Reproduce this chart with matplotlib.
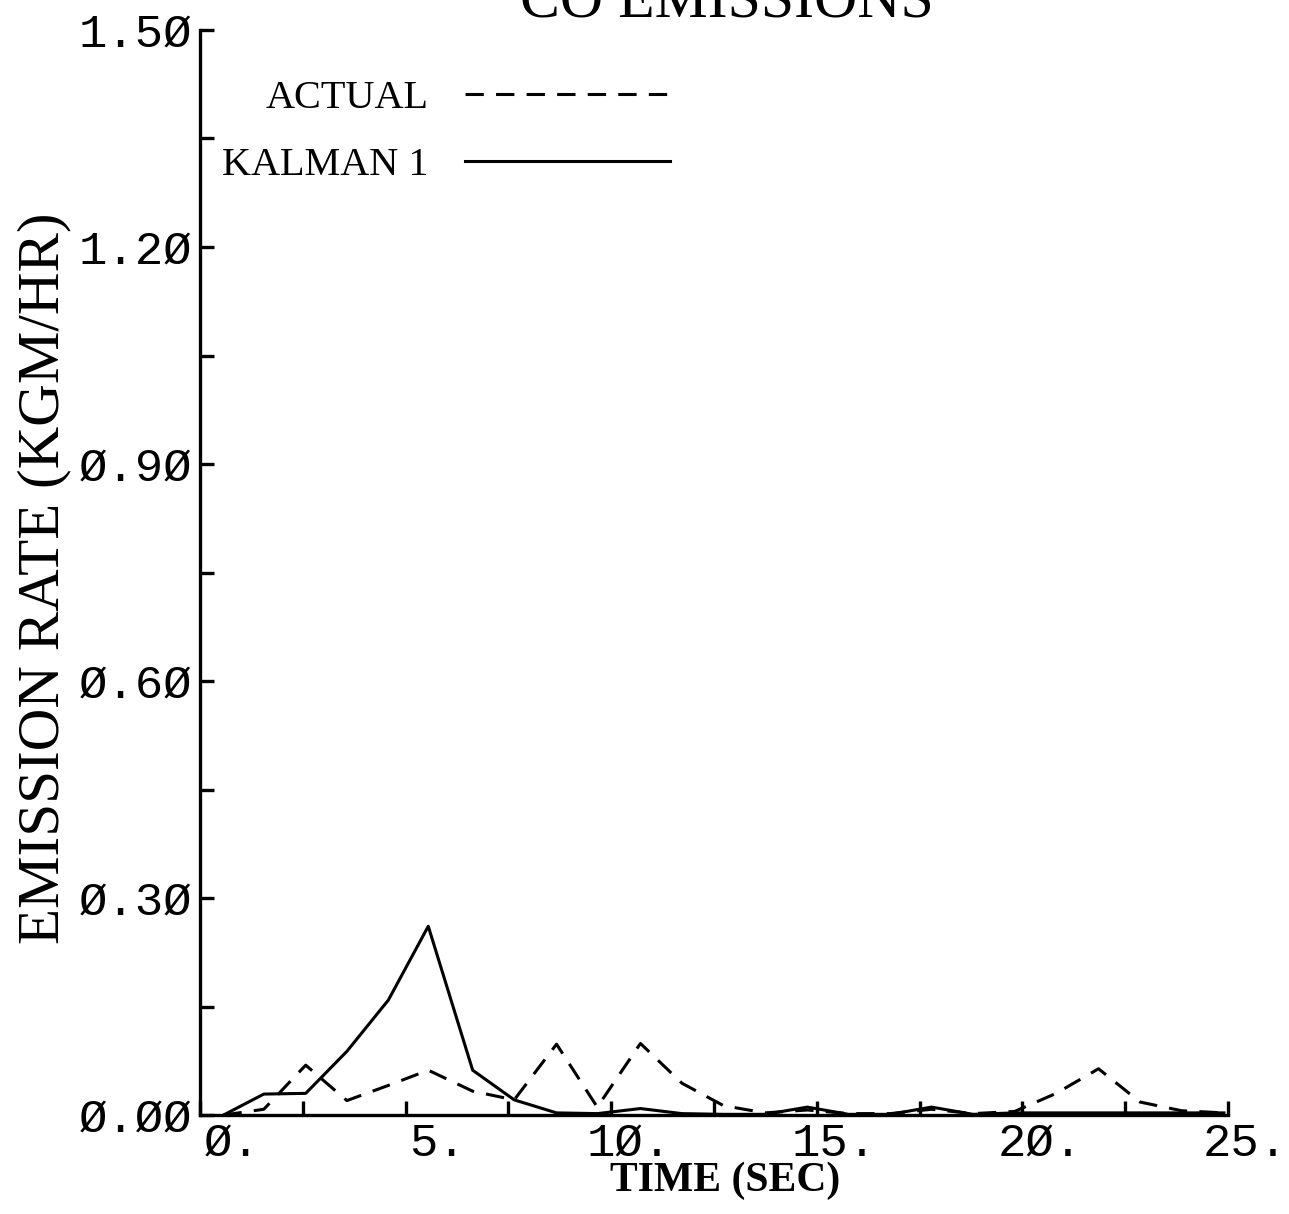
import matplotlib
matplotlib.use("Agg")
import matplotlib.pyplot as plt
from matplotlib.transforms import ScaledTranslation

# sample times (sec) and CO emission rates (kgm/hr)
time_s = [0.57, 1.55, 2.57, 3.57, 4.58, 5.55, 6.63, 7.64, 8.67, 9.66,
          10.71, 11.72, 12.73, 13.74, 14.77, 15.77, 16.78, 17.79, 18.80,
          19.81, 20.82, 21.85, 22.86, 23.87, 24.90]
actual = [0.000, 0.008, 0.069, 0.020, 0.041, 0.062, 0.033, 0.021, 0.098, 0.011,
          0.099, 0.044, 0.013, 0.003, 0.007, 0.002, 0.002, 0.008, 0.002,
          0.005, 0.030, 0.064, 0.018, 0.006, 0.003]
kalman = [0.000, 0.029, 0.030, 0.088, 0.159, 0.261, 0.062, 0.021, 0.003, 0.002,
          0.009, 0.002, 0.001, 0.001, 0.011, 0.001, 0.001, 0.011, 0.001,
          0.003, 0.003, 0.003, 0.003, 0.003, 0.003]

x_major = [0, 5, 10, 15, 20, 25]
x_minor = [2.5, 7.5, 12.5, 17.5, 22.5]
y_major = [0.0, 0.3, 0.6, 0.9, 1.2, 1.5]
y_minor = [0.15, 0.45, 0.75, 1.05, 1.35]

SERIF = "Liberation Serif"
MONO = "Liberation Mono"


def slashed(s):
    return s.replace("0", "\u00d8")


fig = plt.figure(figsize=(12.89, 12.14), dpi=100)
ax = fig.add_axes([0.1552, 0.0815, 0.7975, 0.8938])

ax.plot(time_s, actual, color="black", lw=2.2, dashes=(6, 4), label="ACTUAL")
ax.plot(time_s, kalman, color="black", lw=2.2, label="KALMAN 1")

ax.set_xlim(0, 25)
ax.set_ylim(0, 1.5)
for side in ("top", "right"):
    ax.spines[side].set_visible(False)
for side in ("left", "bottom"):
    ax.spines[side].set_linewidth(2.4)
    ax.spines[side].set_capstyle("projecting")

ax.set_xticks(x_major)
ax.set_xticks(x_minor, minor=True)
ax.set_yticks(y_major)
ax.set_yticks(y_minor, minor=True)
ax.set_xticklabels([slashed(f"{v:.0f}.") for v in x_major],
                   fontfamily=MONO, fontsize=34)
ax.set_yticklabels([slashed(f"{v:.2f}") for v in y_major],
                   fontfamily=MONO, fontsize=34)
ax.tick_params(which="both", direction="in", length=10, width=2.4)
ax.tick_params(axis="x", pad=5)
ax.tick_params(axis="y", pad=6)

# x labels sit to the right of their ticks, number plus trailing dot
shift = ScaledTranslation(0.60, 0, fig.dpi_scale_trans)
for lab in ax.get_xticklabels():
    lab.set_horizontalalignment("right")
    lab.set_transform(lab.get_transform() + shift)

ax.set_ylabel("EMISSION RATE (KGM/HR)", fontfamily=SERIF, fontsize=42.5)
ax.yaxis.set_label_coords(-0.151, 0.495)
ax.yaxis.label.set_va("center")

ax.set_xlabel("TIME (SEC)", fontfamily=SERIF, fontsize=30, fontweight="bold")
ax.xaxis.set_label_coords(0.511, -0.061)
ax.xaxis.label.set_va("center")

fig.text(0.564, 0.986, "CO EMISSIONS", ha="center", va="baseline",
         fontfamily=SERIF, fontsize=43)

ax.legend(loc="upper left", bbox_to_anchor=(222 / 1289, 1 - 80 / 1214),
          bbox_transform=fig.transFigure, frameon=False, markerfirst=False,
          handlelength=5.1, handletextpad=0.9, labelspacing=0.74,
          borderpad=0, borderaxespad=0,
          prop={"family": SERIF, "size": 29})

fig.savefig("out.png", dpi=100)
